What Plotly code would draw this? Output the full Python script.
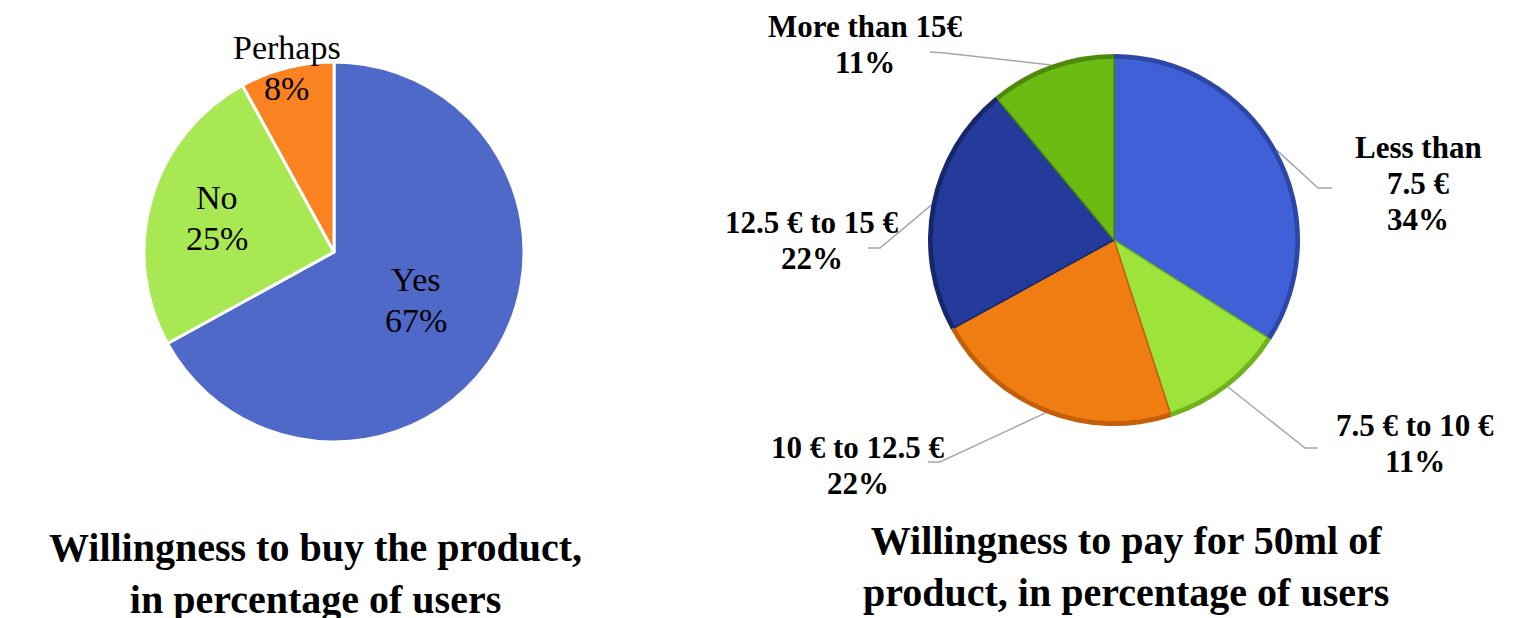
import math
import plotly.graph_objects as go

W, H = 1523, 618

# ---- data ----
buy_labels = ["Yes", "No", "Perhaps"]
buy_values = [67, 25, 8]
buy_colors = ["#4f69c8", "#a8e852", "#fa8221"]

pay_labels = ["Less than<br>7.5 €", "7.5 € to 10 €", "10 € to 12.5 €", "12.5 € to 15 €", "More than 15€"]
pay_values = [34, 11, 22, 22, 11]
pay_colors = ["#3f60d6", "#9ce33a", "#f07d12", "#243b9c", "#6cbb12"]
pay_edges = ["#2c47a6", "#72b020", "#c35f08", "#16286c", "#4d8a0a"]

title_left = "Willingness to buy the product,<br>in percentage of users"
title_right = "Willingness to pay for 50ml of<br>product, in percentage of users"

FONT = "Liberation Serif"


def px(x):
    return x / W


def py(y):
    return 1 - y / H


# pie geometry (pixels)
L_CX, L_CY, L_R = 334, 252, 190
R_CX, R_CY, R_R = 1114, 240, 186
RIM = 4

fig = go.Figure()

fig.add_trace(go.Pie(
    labels=buy_labels, values=buy_values, sort=False, direction="clockwise",
    rotation=0, textinfo="none", hoverinfo="label+percent",
    marker=dict(colors=buy_colors, line=dict(color="white", width=3)),
    domain=dict(x=[px(L_CX - L_R), px(L_CX + L_R)], y=[py(L_CY + L_R), py(L_CY - L_R)]),
    showlegend=False,
))

# darker rim (bevel) underneath
fig.add_trace(go.Pie(
    labels=pay_labels, values=pay_values, sort=False, direction="clockwise",
    rotation=0, textinfo="none", hoverinfo="skip",
    marker=dict(colors=pay_edges, line=dict(width=0)),
    domain=dict(x=[px(R_CX - R_R), px(R_CX + R_R)], y=[py(R_CY + R_R), py(R_CY - R_R)]),
    showlegend=False,
))
fig.add_trace(go.Pie(
    labels=pay_labels, values=pay_values, sort=False, direction="clockwise",
    rotation=0, textinfo="none", hoverinfo="label+percent",
    marker=dict(colors=pay_colors, line=dict(color=pay_edges, width=1.5)),
    domain=dict(x=[px(R_CX - R_R + RIM), px(R_CX + R_R - RIM)],
                y=[py(R_CY + R_R - RIM), py(R_CY - R_R + RIM)]),
    showlegend=False,
))


def mid_angles(values):
    tot = sum(values)
    out, acc = [], 0
    for v in values:
        out.append((acc + v / 2) / tot * 2 * math.pi)
        acc += v
    return out


annotations = []
shapes = []


def add_lines(lines, cx, cy, spacing, size, bold):
    n = len(lines)
    for i, t in enumerate(lines):
        y = cy + (i - (n - 1) / 2) * spacing
        annotations.append(dict(
            x=px(cx), y=py(y), xref="paper", yref="paper", showarrow=False,
            text=f"<b>{t}</b>" if bold else t,
            font=dict(family=FONT, size=size, color="black"),
            xanchor="center", yanchor="middle", align="center",
        ))


# left labels (inside)
left_f = [0.5, 0.64, 1.0]
for lab, v, a, f in zip(buy_labels, buy_values, mid_angles(buy_values), left_f):
    x = L_CX + f * L_R * math.sin(a)
    y = L_CY - f * L_R * math.cos(a)
    pct = round(v / sum(buy_values) * 100)
    add_lines([lab, f"{pct}%"], x, y, 41, 34, False)

# right labels (outside with leader lines)
label_pos = [(1418, 183), (1415, 443), (858, 465), (812, 240), (865, 45)]
line_bend = [(1318, 188), (1305, 448), (940, 462), (880, 248), (945, 53)]
line_end = [(1332, 188), (1318, 448), (928, 462), (868, 248), (930, 52)]
for lab, v, a, lp, lb, le in zip(pay_labels, pay_values, mid_angles(pay_values), label_pos, line_bend, line_end):
    pct = round(v / sum(pay_values) * 100)
    add_lines(lab.split("<br>") + [f"{pct}%"], lp[0], lp[1], 36, 31, True)
    sx = R_CX + R_R * math.sin(a)
    sy = R_CY - R_R * math.cos(a)
    path = f"M {px(sx)},{py(sy)} L {px(lb[0])},{py(lb[1])} L {px(le[0])},{py(le[1])}"
    shapes.append(dict(type="path", path=path, xref="paper", yref="paper",
                       line=dict(color="#a6a6a6", width=1.5), layer="below"))

# titles
annotations.append(dict(x=px(315), y=py(573), xref="paper", yref="paper", showarrow=False,
                        text=f"<b>{title_left}</b>", font=dict(family=FONT, size=40, color="black"),
                        xanchor="center", yanchor="middle", align="center"))
annotations.append(dict(x=px(1126), y=py(566), xref="paper", yref="paper", showarrow=False,
                        text=f"<b>{title_right}</b>", font=dict(family=FONT, size=40, color="black"),
                        xanchor="center", yanchor="middle", align="center"))

fig.update_layout(
    width=W, height=H, autosize=False,
    margin=dict(l=0, r=0, t=0, b=0),
    paper_bgcolor="white", plot_bgcolor="white",
    font=dict(family=FONT),
    annotations=annotations, shapes=shapes,
)

fig.write_html("out.html")
